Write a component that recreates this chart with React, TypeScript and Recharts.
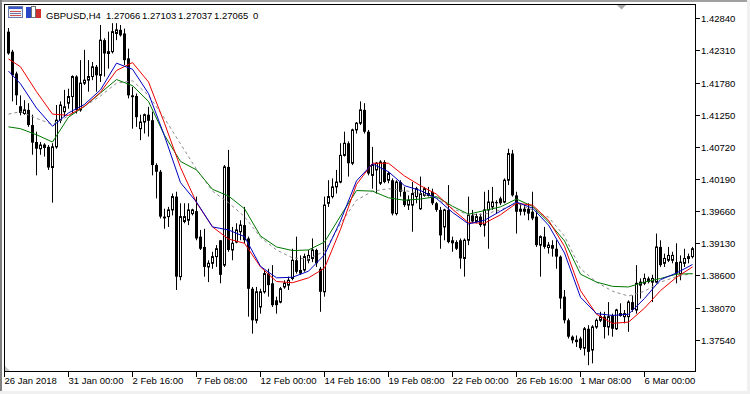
import React from "react";
import { ComposedChart, Bar, Line, XAxis, YAxis } from "recharts";

const FONT = "'Liberation Sans', Arial, sans-serif";

// GBPUSD H4, bars 1..172 (26 Jan 2018 08:00 -> 8 Mar 2018)
const opens = [
  1.4262, 1.4229, 1.4193, 1.4139, 1.4127, 1.4133, 1.4108, 1.408, 1.4069, 1.4071,
  1.4072, 1.4038, 1.4072, 1.4116, 1.413, 1.4144, 1.4155, 1.4188, 1.4133, 1.4177,
  1.4182, 1.4188, 1.4204, 1.419, 1.4248, 1.4226, 1.4229, 1.4259, 1.4265, 1.4259,
  1.4218, 1.4157, 1.4156, 1.4102, 1.4113, 1.4125, 1.4116, 1.4042, 1.4031, 1.3957,
  1.3957, 1.3968, 1.399, 1.3858, 1.3949, 1.3951, 1.3962, 1.3966, 1.3924, 1.3907,
  1.3874, 1.388, 1.3891, 1.3918, 1.3877, 1.4039, 1.3902, 1.3915, 1.3932, 1.3943,
  1.3921, 1.3838, 1.3786, 1.3808, 1.3833, 1.3863, 1.3847, 1.3819, 1.3816, 1.3841,
  1.3844, 1.3855, 1.3885, 1.3869, 1.3869, 1.3885, 1.3888, 1.3902, 1.3871, 1.3833,
  1.3979, 1.399, 1.4006, 1.4014, 1.4058, 1.4078, 1.4045, 1.41, 1.4111, 1.4133,
  1.4097, 1.4025, 1.4034, 1.4012, 1.4047, 1.4017, 1.4017, 1.3962, 1.4014, 1.3998,
  1.3976, 1.3976, 1.399, 1.397, 1.3992, 1.3992, 1.3998, 1.3979, 1.3968, 1.394,
  1.3968, 1.3918, 1.3915, 1.3918, 1.3888, 1.3918, 1.3959, 1.3949, 1.3957, 1.3943,
  1.3968, 1.3973, 1.3981, 1.3987, 1.3981, 1.4017, 1.4061, 1.3992, 1.397, 1.397,
  1.397, 1.3965, 1.3957, 1.391, 1.3924, 1.3906, 1.391, 1.3904, 1.3891, 1.3825,
  1.3786, 1.3759, 1.3754, 1.3756, 1.374, 1.3772, 1.3737, 1.3775, 1.3786, 1.3792,
  1.3775, 1.3794, 1.3772, 1.3794, 1.3792, 1.3792, 1.3816, 1.3803, 1.3844, 1.3847,
  1.3855, 1.3849, 1.3849, 1.3907, 1.388, 1.3885, 1.3885, 1.3882, 1.3863, 1.388,
  1.3888, 1.3891,
];
const highs = [
  1.4268, 1.4232, 1.4196, 1.4157, 1.4149, 1.4144, 1.4125, 1.4097, 1.408, 1.4078,
  1.4075, 1.4078, 1.4141, 1.4147, 1.4166, 1.4168, 1.419, 1.419, 1.4215, 1.4232,
  1.4215, 1.4212, 1.4207, 1.4273, 1.4251, 1.4262, 1.4276, 1.4276, 1.4273, 1.4267,
  1.4234, 1.4171, 1.416, 1.4125, 1.4127, 1.4138, 1.413, 1.4045, 1.4034, 1.397,
  1.3973, 1.3995, 1.3998, 1.3979, 1.3979, 1.3979, 1.397, 1.399, 1.3935, 1.3937,
  1.3885, 1.3899, 1.391, 1.3918, 1.4042, 1.4067, 1.394, 1.3946, 1.3951, 1.3973,
  1.3924, 1.3841, 1.3841, 1.3838, 1.3869, 1.3871, 1.3877, 1.3825, 1.3841, 1.3852,
  1.3858, 1.3904, 1.3924, 1.3893, 1.3896, 1.3902, 1.3921, 1.3904, 1.3874, 1.399,
  1.4017, 1.402, 1.4034, 1.4078, 1.4097, 1.4081, 1.4102, 1.4113, 1.4147, 1.4144,
  1.41, 1.4072, 1.4047, 1.405, 1.405, 1.4031, 1.402, 1.4017, 1.4017, 1.4006,
  1.3992, 1.4014, 1.4006, 1.4023, 1.4006, 1.4006, 1.4003, 1.3981, 1.3973, 1.397,
  1.4009, 1.3924, 1.3918, 1.3921, 1.3921, 1.399, 1.3968, 1.3962, 1.3962, 1.3998,
  1.4001, 1.4006, 1.3984, 1.399, 1.402, 1.4069, 1.4067, 1.3998, 1.3979, 1.3976,
  1.3979, 1.3998, 1.3968, 1.3926, 1.394, 1.3915, 1.3918, 1.3918, 1.3893, 1.3836,
  1.3789, 1.3761, 1.3761, 1.3759, 1.3775, 1.3778, 1.3778, 1.3789, 1.38, 1.38,
  1.3816, 1.3797, 1.3805, 1.3814, 1.3803, 1.3819, 1.3827, 1.3877, 1.3855, 1.3863,
  1.3858, 1.3861, 1.3929, 1.3918, 1.3896, 1.3907, 1.3899, 1.3913, 1.3893, 1.3904,
  1.3896, 1.3907,
];
const lows = [
  1.4224, 1.4147, 1.4141, 1.4124, 1.4125, 1.4105, 1.4059, 1.4025, 1.4059, 1.4056,
  1.4034, 1.398, 1.4069, 1.4111, 1.4122, 1.4135, 1.4127, 1.4127, 1.413, 1.4174,
  1.4163, 1.4182, 1.4163, 1.4179, 1.4188, 1.4201, 1.4226, 1.4248, 1.4254, 1.4207,
  1.4152, 1.4102, 1.4105, 1.4083, 1.4094, 1.4089, 1.4025, 1.3987, 1.3954, 1.3937,
  1.394, 1.3959, 1.3836, 1.3852, 1.3946, 1.3943, 1.3959, 1.3918, 1.3902, 1.3858,
  1.3849, 1.3871, 1.3874, 1.3847, 1.3874, 1.3899, 1.3885, 1.3913, 1.3918, 1.3913,
  1.3792, 1.3764, 1.3781, 1.3797, 1.383, 1.3825, 1.3808, 1.3797, 1.3814, 1.3838,
  1.3836, 1.3852, 1.3863, 1.3861, 1.3866, 1.388, 1.3882, 1.3874, 1.38, 1.3825,
  1.3973, 1.3987, 1.3995, 1.4012, 1.4056, 1.4023, 1.4042, 1.4094, 1.4108, 1.4094,
  1.4025, 1.4003, 1.3995, 1.4009, 1.4012, 1.4012, 1.3959, 1.3959, 1.399, 1.3973,
  1.3968, 1.3932, 1.3979, 1.3968, 1.399, 1.399, 1.3976, 1.3965, 1.3904, 1.3918,
  1.3913, 1.3899, 1.3902, 1.3871, 1.3858, 1.391, 1.3946, 1.3946, 1.394, 1.3924,
  1.3904, 1.3968, 1.3962, 1.3976, 1.3979, 1.4009, 1.399, 1.3929, 1.3959, 1.3959,
  1.3951, 1.3951, 1.3907, 1.3858, 1.3904, 1.3896, 1.3891, 1.3871, 1.3805, 1.3781,
  1.3756, 1.3748, 1.3742, 1.3737, 1.3728, 1.3712, 1.3715, 1.3772, 1.3783, 1.3756,
  1.3761, 1.3759, 1.377, 1.3792, 1.3781, 1.3767, 1.38, 1.3797, 1.3822, 1.3844,
  1.3847, 1.3816, 1.3847, 1.3874, 1.3874, 1.3882, 1.388, 1.3847, 1.3852, 1.3874,
  1.388, 1.3888,
];
const closes = [
  1.4226, 1.419, 1.4157, 1.4128, 1.4133, 1.4108, 1.4079, 1.4069, 1.4075, 1.4075,
  1.4038, 1.4072, 1.4116, 1.4141, 1.4138, 1.4155, 1.4188, 1.4133, 1.4177, 1.4182,
  1.4188, 1.4204, 1.419, 1.4248, 1.4226, 1.4229, 1.4262, 1.4265, 1.4256, 1.4215,
  1.4157, 1.4154, 1.4121, 1.4113, 1.4125, 1.4115, 1.4042, 1.4031, 1.3957, 1.3954,
  1.3968, 1.399, 1.3858, 1.3957, 1.3957, 1.3968, 1.3968, 1.3921, 1.3904, 1.3874,
  1.388, 1.3891, 1.3904, 1.3861, 1.4039, 1.3902, 1.3913, 1.3935, 1.3943, 1.3918,
  1.3838, 1.3786, 1.3833, 1.3833, 1.3863, 1.3844, 1.3811, 1.3811, 1.3838, 1.3847,
  1.3852, 1.3885, 1.3866, 1.3863, 1.3891, 1.3893, 1.3902, 1.388, 1.3833, 1.3976,
  1.399, 1.4006, 1.4014, 1.4058, 1.4078, 1.4045, 1.41, 1.4111, 1.4133, 1.4097,
  1.4028, 1.4042, 1.4045, 1.4047, 1.4014, 1.4028, 1.3962, 1.4014, 1.3998, 1.3976,
  1.3984, 1.3995, 1.4003, 1.3995, 1.4003, 1.3995, 1.3979, 1.3968, 1.3926, 1.3968,
  1.3915, 1.3913, 1.3904, 1.3888, 1.3918, 1.3959, 1.3949, 1.3957, 1.3943, 1.3968,
  1.3981, 1.3981, 1.3979, 1.3979, 1.4017, 1.4061, 1.3992, 1.3965, 1.3965, 1.3965,
  1.3962, 1.3954, 1.391, 1.3924, 1.3907, 1.391, 1.3904, 1.3891, 1.3822, 1.3786,
  1.3759, 1.3753, 1.375, 1.374, 1.3772, 1.3734, 1.3775, 1.3786, 1.3792, 1.3775,
  1.3792, 1.3772, 1.3803, 1.3797, 1.3797, 1.3816, 1.3803, 1.3847, 1.3849, 1.3855,
  1.3849, 1.3855, 1.3907, 1.3877, 1.3888, 1.3893, 1.3893, 1.3863, 1.3882, 1.3888,
  1.3891, 1.3904,
];

// indicator lines, read every 4th bar
const maBars = [
  1, 4, 8, 12, 16, 20, 24, 28, 32, 36, 40, 44, 48, 52, 56, 60, 64, 68, 72, 76, 80, 84,
  88, 92, 96, 100, 104, 108, 112, 116, 120, 124, 128, 132, 136, 140, 144, 148, 152,
  156, 160, 164, 168, 172,
];
const maRed = [
  1.4217, 1.4204, 1.4163, 1.4126, 1.4124, 1.4139, 1.4162, 1.4198, 1.4211, 1.4179, 1.4111,
  1.4038, 1.398, 1.394, 1.392, 1.3913, 1.3874, 1.385, 1.3848, 1.3856, 1.3872, 1.3936,
  1.401, 1.4045, 1.4045, 1.4024, 1.4008, 1.3994, 1.3969, 1.3947, 1.3946, 1.396, 1.3979,
  1.3976, 1.3951, 1.3908, 1.3835, 1.3796, 1.3781, 1.3783, 1.3806, 1.3835, 1.3857, 1.3874,
];
const maBlue = [
  1.4197, 1.4176, 1.4136, 1.4106, 1.4128, 1.4142, 1.4166, 1.421, 1.42, 1.416, 1.409,
  1.4013, 1.3981, 1.394, 1.3935, 1.3924, 1.3875, 1.3856, 1.3857, 1.3867, 1.3894, 1.395,
  1.4016, 1.4044, 1.4031, 1.4008, 1.4, 1.3987, 1.3964, 1.3945, 1.3951, 1.3966, 1.3981,
  1.3971, 1.3943, 1.3897, 1.3824, 1.3797, 1.3794, 1.3796, 1.3822, 1.3853, 1.3864, 1.3878,
];
const maGreen = [
  1.4105, 1.4102, 1.4092, 1.408, 1.4121, 1.4139, 1.4161, 1.4183, 1.4173, 1.4147, 1.4091,
  1.4048, 1.4034, 1.4002, 1.3991, 1.397, 1.3925, 1.3907, 1.3901, 1.3902, 1.3915, 1.3958,
  1.4, 1.3999, 1.3988, 1.3984, 1.3986, 1.399, 1.3974, 1.3961, 1.3967, 1.3973, 1.3986,
  1.3974, 1.3948, 1.3917, 1.3862, 1.3849, 1.3842, 1.3841, 1.3849, 1.3855, 1.3862, 1.3863,
];
const maGray = [
  1.4126, 1.413, 1.4119, 1.4109, 1.4123, 1.4139, 1.4156, 1.4177, 1.4181, 1.4157, 1.4119,
  1.4077, 1.4035, 1.3999, 1.398, 1.3957, 1.3923, 1.3902, 1.3889, 1.3887, 1.39, 1.3945,
  1.3984, 1.3999, 1.4003, 1.4, 1.3995, 1.3988, 1.397, 1.396, 1.3961, 1.3968, 1.3979,
  1.3968, 1.3956, 1.3925, 1.3871, 1.3849, 1.3834, 1.3826, 1.3834, 1.3849, 1.3858, 1.3863,
];

const priceTicks = [
  1.4284, 1.4231, 1.4178, 1.4125, 1.4072, 1.4019, 1.3966, 1.3913, 1.386, 1.3807, 1.3754,
];
const timeTicks = [0, 16, 32, 48, 64, 80, 96, 112, 128, 144, 160];
const timeLabels = [
  "26 Jan 2018", "31 Jan 00:00", "2 Feb 16:00", "7 Feb 08:00", "12 Feb 00:00",
  "14 Feb 16:00", "19 Feb 08:00", "22 Feb 00:00", "26 Feb 16:00", "1 Mar 08:00",
  "6 Mar 00:00",
];

const headerParts = ["GBPUSD,H4", "1.27066", "1.27103", "1.27037", "1.27065", "0"];
const headerX = [46, 106, 142, 178, 214, 253];

const data = opens.map((o, i) => {
  const idx = i + 1;
  const k = maBars.indexOf(idx);
  return {
    idx,
    open: o,
    high: highs[i],
    low: lows[i],
    close: closes[i],
    range: [lows[i], highs[i]],
    red: k >= 0 ? maRed[k] : null,
    blue: k >= 0 ? maBlue[k] : null,
    green: k >= 0 ? maGreen[k] : null,
    gray: k >= 0 ? maGray[k] : null,
  };
});

function Candle(props: any) {
  const { x, y, width, height, payload } = props;
  if (x == null || y == null) return null;
  const top = Math.min(y, y + height);
  const h = Math.abs(height);
  const { open, close, high, low } = payload;
  const cx = Math.floor(x + width / 2) + 0.5;
  const k = high > low ? h / (high - low) : 0;
  const yo = top + (high - open) * k;
  const yc = top + (high - close) * k;
  const bt = Math.min(yo, yc);
  const bh = Math.max(Math.abs(yo - yc), 1);
  const up = close >= open;
  return (
    <g>
      <line x1={cx} x2={cx} y1={top} y2={top + h} stroke="#000" strokeWidth={1} />
      {up ? (
        <rect x={cx - 1} y={bt} width={2} height={bh} fill="#fff" stroke="#000" strokeWidth={1} />
      ) : (
        <rect x={cx - 1.5} y={bt} width={3} height={bh} fill="#000" />
      )}
    </g>
  );
}

function PriceTick(props: any) {
  const { x, y, payload } = props;
  const yy = Math.round(y) + 0.5;
  return (
    <g>
      <line x1={x + 1} x2={x + 5} y1={yy} y2={yy} stroke="#000" />
      <text x={x + 6} y={yy + 3} fontSize={9.5} fontFamily={FONT} fill="#000">
        {Number(payload.value).toFixed(5)}
      </text>
    </g>
  );
}

function TimeTick(props: any) {
  const { x, y, payload } = props;
  const xx = Math.floor(x) + 0.5;
  const label = timeLabels[timeTicks.indexOf(payload.value)];
  return (
    <g>
      <line x1={xx} x2={xx} y1={y + 1} y2={y + 6} stroke="#000" />
      <text x={xx} y={y + 13} fontSize={9.5} fontFamily={FONT} fill="#000">
        {label}
      </text>
    </g>
  );
}

export default function App() {
  return (
    <div style={{ position: "absolute", left: 0, top: 0, width: 750, height: 394, background: "#fff" }}>
      <ComposedChart width={750} height={394} data={data} margin={{ top: 4, right: 0, bottom: 0, left: 4 }}>
        <XAxis
          dataKey="idx"
          type="number"
          domain={[-0.125, 172.625]}
          allowDataOverflow
          ticks={timeTicks}
          interval={0}
          tickSize={0}
          tickMargin={0}
          axisLine={false}
          height={23}
          tick={(p: any) => <TimeTick {...p} />}
        />
        <YAxis
          orientation="right"
          domain={[1.37024, 1.43076]}
          allowDataOverflow
          ticks={priceTicks}
          interval={0}
          tickSize={0}
          tickMargin={0}
          axisLine={false}
          width={55}
          tick={(p: any) => <PriceTick {...p} />}
        />
        <Bar dataKey="range" barSize={3} shape={Candle} isAnimationActive={false} />
        <Line dataKey="gray" type="linear" stroke="#8c8c8c" strokeWidth={1} strokeDasharray="3 3" dot={false} connectNulls isAnimationActive={false} />
        <Line dataKey="green" type="linear" stroke="#007800" strokeWidth={1} dot={false} connectNulls isAnimationActive={false} />
        <Line dataKey="red" type="linear" stroke="#ee0000" strokeWidth={1} dot={false} connectNulls isAnimationActive={false} />
        <Line dataKey="blue" type="linear" stroke="#0000c0" strokeWidth={1} dot={false} connectNulls isAnimationActive={false} />
      </ComposedChart>
      <svg width={750} height={394} style={{ position: "absolute", left: 0, top: 0, pointerEvents: "none" }}>
        {/* window edges */}
        <rect x={0} y={0} width={750} height={2} fill="#a0a0a0" />
        <rect x={0} y={0} width={2} height={394} fill="#808080" />
        <rect x={0} y={391} width={750} height={3} fill="#f0f0f0" />
        <rect x={747} y={0} width={3} height={394} fill="#f0f0f0" />
        {/* plot frame */}
        <rect x={4.5} y={4.5} width={691} height={367} fill="none" stroke="#000" strokeWidth={1} />
        {/* markers */}
        <polygon points="617,5 626,5 621.5,9.5" fill="#a8a8a8" />
        <polygon points="5,366 5,371 10,371" fill="#c8c8c8" />
        {/* header icons */}
        <rect x={8.5} y={6.5} width={14} height={11} fill="#eef0f8" stroke="#6878a8" />
        <rect x={9} y={7} width={13} height={2} fill="#3858c8" />
        <line x1={10} x2={21} y1={11.5} y2={11.5} stroke="#d05050" />
        <line x1={10} x2={21} y1={13.5} y2={13.5} stroke="#6878a8" />
        <line x1={10} x2={21} y1={15.5} y2={15.5} stroke="#d05050" />
        <rect x={26} y={7} width={5} height={11} fill="#2848c8" />
        <rect x={31.5} y={6.5} width={4} height={11} fill="#fff" stroke="#707070" />
        <rect x={36} y={9} width={5} height={9} fill="#d03030" />
        {headerParts.map((t, i) => (
          <text key={i} x={headerX[i]} y={19} fontSize={9.5} fontFamily={FONT} fill="#000">
            {t}
          </text>
        ))}
      </svg>
    </div>
  );
}
